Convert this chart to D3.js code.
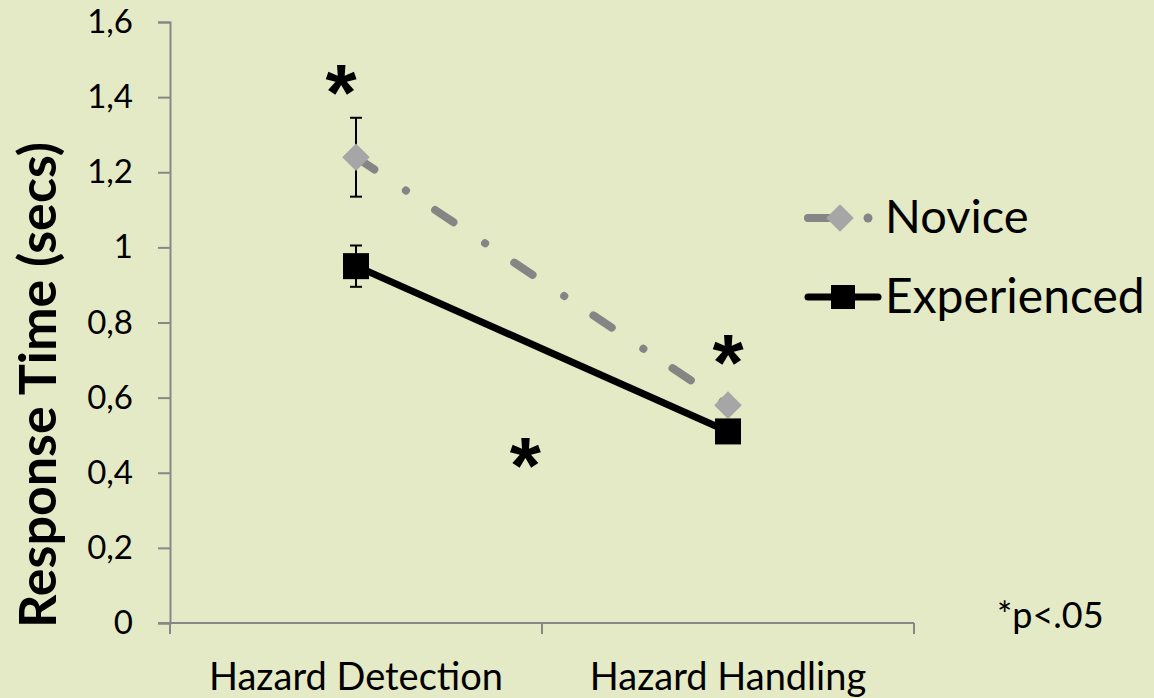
<!DOCTYPE html>
<html><head><meta charset="utf-8">
<script src="https://cdn.jsdelivr.net/npm/d3@7"></script>
<style>
html,body{margin:0;padding:0;background:#E5EAC6;}
svg{display:block;font-family:Lato, "Open Sans", sans-serif;}
</style></head>
<body>
<svg id="chart" width="1154" height="698"></svg>
<script>
const categories = ["Hazard Detection", "Hazard Handling"];
const seriesNames = ["Novice", "Experienced"];
const noviceValues = [1.24, 0.58];
const experiencedValues = [0.95, 0.51];
const noviceErrors = [0.105, 0.01];
const experiencedErrors = [0.055, 0.01];
const yTicks = [0, 0.2, 0.4, 0.6, 0.8, 1, 1.2, 1.4, 1.6];
const stars = [{cat: -0.04, value: 1.34}, {cat: 1, value: 0.62}, {cat: 0.455, value: 0.346}];

const svg = d3.select("#chart");
const W = 1154, H = 698;
const m = {left: 170, right: 240, top: 22, bottom: 75};
const x = d3.scaleBand().domain(categories).range([m.left, W - m.right]);
const y = d3.scaleLinear().domain([0, 1.6]).range([H - m.bottom, m.top]);
const cx = i => x(categories[0]) + x.bandwidth() * (i + 0.5);
const axisColor = "#878787";

// Y axis
const yAxis = d3.axisLeft(y).tickValues(yTicks).tickSize(12).tickPadding(25)
  .tickFormat(d => String(d).replace(".", ","));
const gy = svg.append("g").attr("transform", `translate(${m.left},0)`).call(yAxis);
gy.select(".domain").attr("stroke", axisColor).attr("stroke-width", 2);
gy.selectAll(".tick line").attr("stroke", axisColor).attr("stroke-width", 2);
gy.selectAll(".tick text").attr("font-size", 33).attr("fill", "#000").attr("font-family", "Lato");

// X axis
const gx = svg.append("g").attr("transform", `translate(0,${y(0)})`);
gx.append("line").attr("x1", m.left - 12).attr("x2", W - m.right).attr("stroke", axisColor).attr("stroke-width", 2);
const xt = [x(categories[0]), x(categories[1]), x(categories[1]) + x.bandwidth()];
gx.selectAll("line.t").data(xt).join("line").attr("class","t")
  .attr("x1", d => d).attr("x2", d => d).attr("y1", 0).attr("y2", 11)
  .attr("stroke", axisColor).attr("stroke-width", 2);
gx.selectAll("text").data(categories).join("text")
  .attr("x", (d, i) => cx(i)).attr("y", 67).attr("text-anchor", "middle")
  .attr("font-size", 38).attr("fill", "#000").text(d => d);

// Y label
svg.append("text").attr("transform", `translate(56,${385}) rotate(-90)`)
  .attr("text-anchor", "middle").attr("font-size", 52).attr("font-weight", "bold")
  .text("Response Time (secs)");

// Error bars
function errBars(vals, errs) {
  vals.forEach((v, i) => {
    const g = svg.append("g").attr("stroke", "#000").attr("stroke-width", 2);
    g.append("line").attr("x1", cx(i)).attr("x2", cx(i)).attr("y1", y(v - errs[i])).attr("y2", y(v + errs[i]));
    [v - errs[i], v + errs[i]].forEach(e => g.append("line").attr("x1", cx(i) - 6).attr("x2", cx(i) + 6).attr("y1", y(e)).attr("y2", y(e)));
  });
}
errBars(noviceValues, noviceErrors);
errBars(experiencedValues, experiencedErrors);

const line = d3.line().x((d, i) => cx(i)).y(d => y(d));

// Experienced line
svg.append("path").attr("d", line(experiencedValues)).attr("fill", "none")
  .attr("stroke", "#000").attr("stroke-width", 7);
// Novice line
svg.append("path").attr("d", line(noviceValues)).attr("fill", "none")
  .attr("stroke", "#858585").attr("stroke-width", 8).attr("stroke-linecap", "round")
  .attr("stroke-dasharray", "22 38 0.1 35");

// Markers
const diamond = d3.symbol().type(d3.symbolSquare).size(380);
noviceValues.forEach((v, i) => {
  svg.append("path").attr("d", diamond()).attr("fill", "#A6A6A6")
    .attr("transform", `translate(${cx(i)},${y(v)}) rotate(45)`);
});
experiencedValues.forEach((v, i) => {
  svg.append("rect").attr("x", cx(i) - 13).attr("y", y(v) - 13).attr("width", 26).attr("height", 26).attr("fill", "#000");
});

// Stars
stars.forEach(s => {
  svg.append("text").attr("x", cx(s.cat)).attr("y", y(s.value)).attr("text-anchor", "middle")
    .attr("font-size", 80).attr("font-weight", "bold").attr("font-family", "Liberation Sans").text("*");
});

// Legend
const lg = svg.append("g");
lg.append("line").attr("x1", 808).attr("x2", 840).attr("y1", 218).attr("y2", 218)
  .attr("stroke", "#858585").attr("stroke-width", 8).attr("stroke-linecap", "round");
lg.append("circle").attr("cx", 868).attr("cy", 218).attr("r", 4.5).attr("fill", "#858585");
lg.append("path").attr("d", diamond()).attr("fill", "#A6A6A6").attr("transform", "translate(840,218) rotate(45)");
lg.append("text").attr("x", 885).attr("y", 233).attr("font-size", 47).text(seriesNames[0]);
lg.append("line").attr("x1", 808).attr("x2", 878).attr("y1", 297).attr("y2", 297)
  .attr("stroke", "#000").attr("stroke-width", 7).attr("stroke-linecap", "round");
lg.append("rect").attr("x", 831).attr("y", 285).attr("width", 24).attr("height", 24).attr("fill", "#000");
lg.append("text").attr("x", 885).attr("y", 313).attr("font-size", 48).text(seriesNames[1]);

svg.append("text").attr("x", 997).attr("y", 628).attr("font-size", 36).text("*p<.05");
</script>
</body></html>
